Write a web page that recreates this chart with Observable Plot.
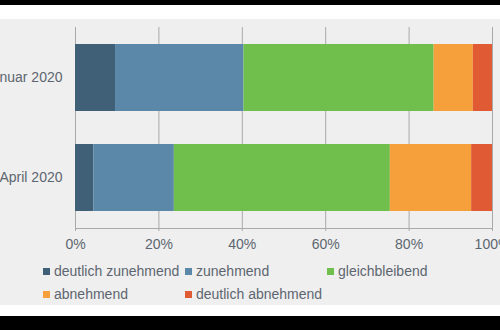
<!DOCTYPE html>
<html>
<head>
<meta charset="utf-8">
<script src="https://cdn.jsdelivr.net/npm/d3@7"></script>
<script src="https://cdn.jsdelivr.net/npm/@observablehq/plot@0.6"></script>
<style>
  html, body { margin: 0; padding: 0; background: #000; width: 500px; height: 330px; overflow: hidden; }
  #white { position: absolute; left: 0; top: 5px; width: 500px; height: 311px; background: #fff; }
  #panel { position: absolute; left: 0; top: 14px; width: 500px; height: 286px; background: #efefef; overflow: hidden; }
  #chart svg { display: block; overflow: visible; }
  #legend { display: grid; grid-template-columns: 142px 142px 142px; padding-left: 43px; margin-top: 1px;
    font-family: "Liberation Sans", Arial, sans-serif; font-size: 14px; line-height: 23px; color: #5d6670; }
  .item { display: flex; align-items: center; white-space: nowrap; }
  .sw { width: 7px; height: 7px; margin-right: 4px; flex: none; }
</style>
</head>
<body>
<div id="white"><div id="panel"><div id="chart"></div><div id="legend"></div></div></div>
<script>
const categories = ["Januar 2020", "April 2020"];
const series = ["deutlich zunehmend", "zunehmend", "gleichbleibend", "abnehmend", "deutlich abnehmend"];
const januar = [9.6, 30.8, 45.6, 9.4, 4.6];
const april = [4.4, 19.3, 51.8, 19.5, 5.0];
const colors = ["#3f6077", "#5b87a8", "#70bf4c", "#f5a03b", "#e05b34"];
const xTicks = [0, 20, 40, 60, 80, 100];

const valuesByCategory = [januar, april];
const table = [];
categories.forEach((c, i) => series.forEach((s, j) => table.push({period: c, series: s, value: valuesByCategory[i][j]})));

const textColor = "#5d6670";
const gridColor = "#a9a9a9";

const chart = Plot.plot({
  width: 500,
  height: 240,
  marginTop: 8,
  marginBottom: 31,
  marginLeft: 75,
  marginRight: 8,
  style: { background: "transparent", fontFamily: "'Liberation Sans', Arial, sans-serif", fontSize: "14px", color: textColor },
  x: { domain: [0, 100] },
  y: { domain: categories, paddingInner: 0.33, paddingOuter: 0.165 },
  color: { domain: series, range: colors },
  marks: [
    Plot.gridX(xTicks, { stroke: gridColor, strokeOpacity: 1 }),
    Plot.frame({ anchor: "bottom", stroke: gridColor }),
    Plot.barX(table, Plot.stackX({ x: "value", y: "period", fill: "series", z: "series", order: series })),
    Plot.axisX(xTicks, { tickSize: 3, tickPadding: 8, stroke: gridColor, tickFormat: d => d + "%", fill: textColor, label: null }),
    Plot.axisY({ tickSize: 0, tickPadding: 13, fill: textColor, label: null })
  ]
});
document.getElementById("chart").appendChild(chart);

const legend = document.getElementById("legend");
series.forEach((s, i) => {
  const item = document.createElement("div");
  item.className = "item";
  const sw = document.createElement("span");
  sw.className = "sw";
  sw.style.background = colors[i];
  item.appendChild(sw);
  const t = document.createElement("span");
  t.textContent = s;
  item.appendChild(t);
  legend.appendChild(item);
});
</script>
</body>
</html>
